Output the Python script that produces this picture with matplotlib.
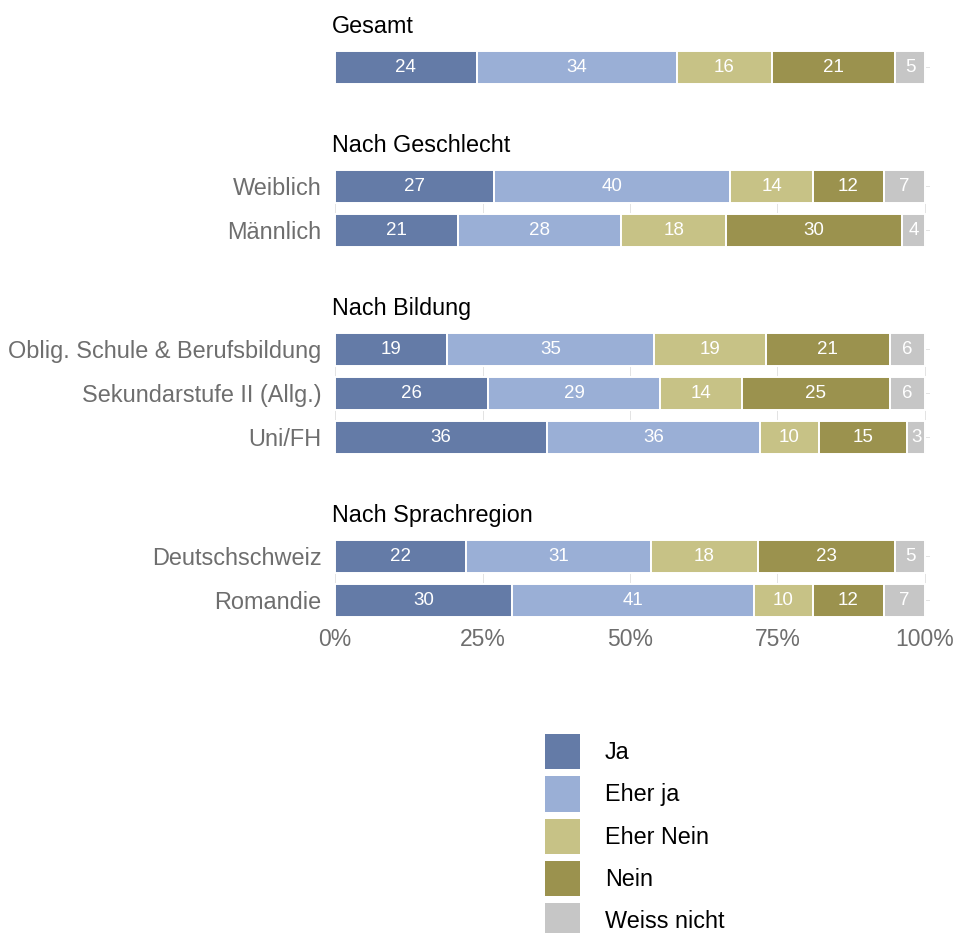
import numpy as np
import matplotlib
matplotlib.use("Agg")
import matplotlib.pyplot as plt
from matplotlib.patches import Patch
from matplotlib.transforms import ScaledTranslation

plt.rcParams["font.family"] = ["Liberation Sans", "DejaVu Sans"]

answers = ["Ja", "Eher ja", "Eher Nein", "Nein", "Weiss nicht"]
colors = ["#647ba7", "#9aafd6", "#c7c286", "#9b924e", "#c6c6c6"]

groups = ["Gesamt", "Nach Geschlecht", "Nach Bildung", "Nach Sprachregion"]
rows = [
    [""],
    ["Weiblich", "Männlich"],
    ["Oblig. Schule & Berufsbildung", "Sekundarstufe II (Allg.)", "Uni/FH"],
    ["Deutschschweiz", "Romandie"],
]
values = [
    [[24, 34, 16, 21, 5]],
    [[27, 40, 14, 12, 7],
     [21, 28, 18, 30, 4]],
    [[19, 35, 19, 21, 6],
     [26, 29, 14, 25, 6],
     [36, 36, 10, 15, 3]],
    [[22, 31, 18, 23, 5],
     [30, 41, 10, 12, 7]],
]
xticks = [0, 0.25, 0.5, 0.75, 1.0]
xticklabels = ["0%", "25%", "50%", "75%", "100%"]

W, H = 957, 933
fig = plt.figure(figsize=(W / 100, H / 100), dpi=100)

# panel layout in pixels: top edge of first bar, 44 px per row
row_px = 44
bar_h = 0.74
panel_tops = [51, 170, 333, 540]
x0_px, x1_px = 335, 925

grid_col = "#dedede"
label_col = "#6e6e6e"
big = 16.5

for g, (title, cats, vals, top) in enumerate(zip(groups, rows, values, panel_tops)):
    n = len(cats)
    ext = n - 1 + bar_h
    h = ext * row_px
    lo, hi = -0.002, 1.008
    span = x1_px - x0_px
    left_px = x0_px + lo * span
    width_px = (hi - lo) * span
    ax = fig.add_axes([left_px / W, 1 - (top + h) / H, width_px / W, h / H])
    ax.set_xlim(lo, hi)
    ax.set_ylim(n - 1 + bar_h / 2, -bar_h / 2)
    for xv in xticks:
        ax.axvline(xv, color=grid_col, lw=0.6, zorder=0)
    for i in range(n):
        ax.axhline(i, color=grid_col, lw=0.6, zorder=0)

    arr = np.array(vals, dtype=float)
    frac = arr / arr.sum(axis=1, keepdims=True)
    left = np.zeros(n)
    for k in range(len(answers)):
        ax.barh(np.arange(n), frac[:, k], left=left, height=bar_h,
                color=colors[k], edgecolor="white", linewidth=1.4, zorder=2)
        for i in range(n):
            ax.text(left[i] + frac[i, k] / 2, i, f"{int(arr[i, k])}",
                    ha="center", va="center", color="white", fontsize=13.5,
                    zorder=3)
        left += frac[:, k]

    for s in ax.spines.values():
        s.set_visible(False)
    ax.set_yticks(np.arange(n))
    ax.set_yticklabels(cats, fontsize=16.9, color=label_col)
    ax.tick_params(axis="y", length=0, pad=9)
    ax.set_xticks(xticks)
    if g == len(groups) - 1:
        ax.set_xticklabels(xticklabels, fontsize=big, color=label_col)
        ax.tick_params(axis="x", length=0, pad=8)
    else:
        ax.tick_params(axis="x", length=0, labelbottom=False)

    off = ScaledTranslation(0, 18 / 100, fig.dpi_scale_trans)
    ax.text(-0.003, 1, title, transform=ax.transAxes + off,
            ha="left", va="baseline", fontsize=16.8, color="black")

handles = [Patch(facecolor=c, edgecolor="none") for c in colors]
fig.legend(handles, answers, loc="upper left",
           bbox_to_anchor=(545 / W, 1 - 734 / H), frameon=False,
           fontsize=16.8, handlelength=1.5, handleheight=1.95,
           handletextpad=1.06, labelspacing=0.30, borderpad=0,
           borderaxespad=0)

fig.savefig("out.png", dpi=100)
